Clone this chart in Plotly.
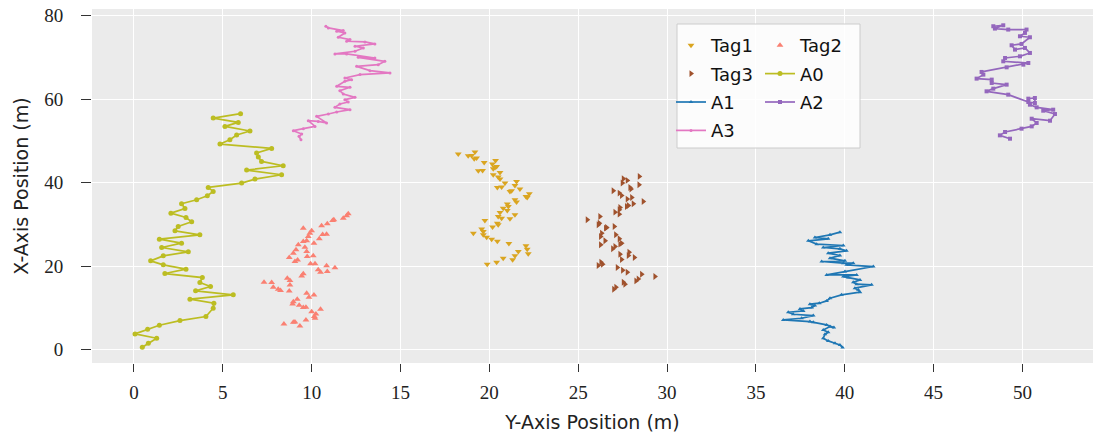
import plotly.graph_objects as go

# ---------------- data ----------------
tag1_x = [18.25, 18.81, 19.0, 19.19, 19.15, 19.28, 19.71, 20.35, 20.17, 20.41, 20.22, 20.32, 19.38, 19.62,
          20.6, 20.22, 20.5, 20.6, 20.88, 21.53, 21.44, 20.45, 20.69, 21.16, 21.25, 21.72, 22.25, 22.13,
          22.06, 21.44, 21.53, 21.01, 21.07, 20.78, 21.01, 20.6, 21.44, 20.5, 20.69, 21.16, 19.75, 20.45,
          20.5, 20.18, 19.57, 19.1, 19.66, 19.66, 19.85, 20.13, 20.45, 21.1, 22.06, 22.13, 22.19, 21.63,
          21.44, 20.78, 21.31, 20.41, 19.88]
tag1_y = [46.85, 46.45, 46.53, 47.33, 45.73, 45.89, 44.85, 45.33, 44.45, 43.89, 43.33, 43.65, 42.85, 42.93,
          42.45, 41.89, 41.34, 40.86, 39.9, 40.3, 39.34, 38.86, 38.94, 37.9, 38.06, 38.46, 37.34, 36.46,
          36.7, 35.9, 35.34, 34.86, 34.3, 33.9, 33.34, 32.86, 32.3, 31.9, 31.5, 31.34, 30.94, 30.3,
          29.9, 29.35, 28.87, 27.9, 28.3, 27.51, 26.95, 26.47, 25.99, 25.43, 24.87, 24.07, 22.95, 23.51,
          22.47, 21.91, 21.51, 20.95, 20.47]

tag2_x = [12.06, 11.97, 11.78, 11.18, 11.25, 10.88, 10.56, 9.53, 10.0, 9.9, 9.81, 10.84, 10.62, 10.43,
          10.13, 9.72, 9.53, 9.25, 9.62, 9.12, 9.72, 8.97, 10.09, 8.74, 9.21, 9.06, 9.75, 10.19, 9.94,
          10.84, 11.31, 10.37, 10.5, 10.88, 9.53, 9.44, 8.63, 8.78, 7.32, 7.75, 8.78, 7.84, 8.12, 8.25,
          8.74, 9.72, 10.13, 9.85, 9.19, 8.97, 8.93, 9.3, 9.68, 9.53, 10.5, 10.0, 10.24, 10.15, 10.19,
          9.68, 8.97, 8.44, 9.34, 9.06]
tag2_y = [32.54, 32.06, 31.5, 30.94, 31.1, 30.14, 29.66, 29.1, 28.46, 27.9, 27.1, 27.66, 27.58, 26.55,
          25.5, 26.06, 25.9, 25.1, 24.54, 23.9, 23.5, 23.1, 22.47, 22.06, 21.5, 21.1, 22.3, 20.55, 20.55,
          20.07, 19.59, 19.11, 18.55, 18.7, 18.15, 17.67, 17.1, 16.55, 16.15, 16.07, 15.5, 14.95, 14.47, 14.15,
          14.07, 13.5, 13.1, 12.55, 12.07, 11.5, 10.95, 10.63, 10.15, 10.07, 9.67, 9.1, 8.55, 7.92, 7.52,
          7.12, 6.56, 6.16, 5.68, 6.64]

tag3_x = [27.54, 27.76, 27.48, 28.44, 28.42, 26.97, 27.31, 27.44, 27.91, 27.97, 28.01, 27.76, 27.82, 27.72,
          28.1, 28.66, 27.35, 27.31, 27.07, 27.31, 26.22, 25.51, 26.19, 26.13, 26.54, 26.6, 27.03, 26.32,
          26.26, 26.51, 27.11, 27.31, 27.44, 27.35, 26.26, 27.07, 26.94, 27.35, 27.86, 27.82, 28.16, 27.44,
          26.28, 26.37, 26.13, 27.2, 27.5, 27.76, 28.57, 29.32, 28.38, 28.25, 27.54, 27.63, 27.12, 27.0]
tag3_y = [40.93, 40.54, 39.9, 41.5, 39.5, 38.06, 37.5, 36.94, 38.86, 38.46, 36.46, 36.06, 34.54, 34.3,
          34.94, 35.5, 34.06, 33.5, 32.94, 32.46, 31.9, 31.1, 30.3, 29.9, 29.1, 29.26, 29.5, 27.91,
          27.1, 26.07, 27.51, 26.55, 25.51, 25.27, 25.11, 24.71, 24.15, 22.87, 23.35, 22.55, 22.07, 21.59,
          20.95, 20.47, 20.15, 19.67, 19.03, 18.55, 18.07, 17.51, 16.95, 16.47, 16.16, 15.68, 14.96, 14.48]

a0_x = [0.47, 0.81, 1.28, 0.06, 0.77, 1.43, 2.59, 4.05, 4.46, 4.5, 3.15, 5.59, 3.47, 4.31, 3.71, 3.85,
        1.74, 2.93, 1.65, 0.94, 1.65, 3.06, 1.56, 2.68, 1.43, 3.71, 2.31, 2.49, 3.25, 2.93, 2.08, 2.87,
        2.68, 3.53, 4.13, 4.46, 4.18, 6.06, 6.81, 8.31, 6.34, 8.4, 7.18, 7.0, 6.9, 7.75, 4.84, 5.4,
        5.78, 6.53, 5.12, 5.87, 4.46, 6.0]
a0_y = [0.57, 1.53, 2.73, 3.77, 4.88, 5.84, 6.96, 7.92, 9.92, 11.12, 12.08, 13.12, 14.08, 15.12, 16.07, 17.27,
        18.23, 19.27, 20.31, 21.27, 22.47, 23.43, 24.47, 25.51, 26.47, 27.51, 28.47, 29.5, 30.62, 31.66, 32.7, 33.82,
        34.94, 35.9, 36.86, 37.9, 38.86, 39.9, 40.86, 41.9, 43.01, 44.05, 45.09, 46.13, 47.09, 48.21, 49.25, 50.29,
        51.41, 52.37, 53.48, 54.44, 55.48, 56.52]

a1_x = [39.88, 39.73, 39.45, 39.07, 38.79, 38.89, 39.07, 38.79, 39.17, 39.39, 38.98, 38.23, 38.04, 36.54,
        37.57, 38.23, 37.1, 36.82, 37.67, 37.48, 38.14, 38.32, 38.04, 38.57, 38.98, 39.17, 39.82, 40.86,
        40.76, 40.57, 41.51, 40.67, 40.48, 40.86, 40.2, 39.92, 40.67, 38.98, 40.01, 41.61, 40.1, 40.48,
        39.92, 38.7, 40.01, 39.17, 39.73, 39.07, 40.1, 39.73, 38.79, 39.92, 38.42, 37.95, 39.07, 38.32,
        39.17, 39.73]
a1_y = [0.49, 1.13, 1.53, 2.09, 2.73, 3.69, 4.17, 4.72, 5.52, 5.28, 5.92, 6.56, 6.72, 7.12,
        7.52, 8.16, 8.48, 8.96, 9.28, 9.76, 10.08, 10.56, 10.88, 11.12, 11.68, 12.32, 13.12, 13.76,
        14.32, 14.72, 15.52, 15.68, 16.16, 16.71, 17.27, 17.51, 17.91, 17.91, 18.71, 19.91, 20.31, 20.71,
        20.71, 21.11, 21.27, 21.91, 22.55, 23.11, 23.67, 24.15, 24.47, 24.95, 25.27, 26.07, 26.55, 26.87,
        27.51, 28.15]

a2_x = [49.3, 48.73, 49.02, 49.95, 50.52, 50.8, 50.52, 51.55, 51.83, 51.17, 51.73, 50.8, 50.42, 50.33,
        50.7, 50.7, 50.33, 49.2, 47.98, 48.36, 49.11, 48.27, 48.27, 47.42, 47.8, 47.7, 49.11, 50.05,
        50.33, 48.92, 49.02, 49.86, 50.42, 50.14, 49.58, 49.39, 49.95, 50.42, 49.86, 50.14, 50.23, 49.2,
        48.45, 48.92, 48.36]
a2_y = [50.53, 51.33, 52.13, 52.93, 53.48, 54.29, 55.32, 54.84, 56.44, 57.24, 57.48, 58.04, 58.68, 60.12,
        60.28, 59.08, 59.32, 61.08, 61.88, 62.52, 63.48, 63.88, 64.68, 64.92, 65.88, 66.52, 67.63, 68.27,
        68.67, 69.07, 69.87, 70.27, 71.07, 72.27, 71.87, 72.91, 73.23, 74.83, 75.07, 75.87, 76.67, 76.67,
        76.91, 77.7, 77.47]

a3_x = [9.4, 9.29, 9.44, 8.97, 9.53, 10.19, 9.81, 10.37, 10.84, 10.28, 10.94, 11.41, 12.16, 11.31,
        11.59, 12.06, 11.87, 12.44, 11.78, 11.59, 12.16, 11.41, 11.87, 12.25, 11.87, 12.72, 14.41, 13.28,
        12.53, 13.75, 14.12, 12.62, 13.56, 11.97, 11.31, 12.44, 12.91, 12.44, 13.56, 13.0, 11.97, 12.16,
        11.5, 11.87, 11.41, 11.78, 10.94, 10.8]
a3_y = [50.29, 51.09, 51.65, 52.45, 52.93, 53.48, 54.84, 54.68, 54.29, 55.88, 56.44, 56.92, 57.48, 58.04,
        58.84, 59.32, 59.88, 60.44, 61.24, 62.04, 62.84, 63.08, 64.28, 64.68, 65.08, 65.88, 66.28, 66.83,
        67.87, 68.27, 69.07, 70.03, 69.87, 70.83, 70.83, 71.47, 72.27, 72.67, 73.23, 73.71, 73.87, 74.27,
        74.83, 75.87, 76.27, 76.43, 77.07, 77.47]

x_ticks = [0, 5, 10, 15, 20, 25, 30, 35, 40, 45, 50]
y_ticks = [0, 20, 40, 60, 80]

# ---------------- figure ----------------
fig = go.Figure()

def scat(x, y, name, color, symbol, size, legend):
    fig.add_trace(go.Scatter(x=x, y=y, mode="markers", name=name, legend=legend, legendgroup=name,
                             marker=dict(color=color, symbol=symbol, size=size, line=dict(width=0))))

def path(x, y, name, color, symbol, size, legend):
    fig.add_trace(go.Scatter(x=x, y=y, mode="lines+markers", name=name, legend=legend, legendgroup=name,
                             line=dict(color=color, width=1.7),
                             marker=dict(color=color, symbol=symbol, size=size, line=dict(width=0))))

scat(tag1_x, tag1_y, "Tag1", "#DAA520", "triangle-down", 6, "legend")
scat(tag2_x, tag2_y, "Tag2", "#FA8072", "triangle-up", 6, "legend2")
scat(tag3_x, tag3_y, "Tag3", "#A0522D", "triangle-right", 6, "legend")
path(a0_x, a0_y, "A0", "#BCBD22", "circle", 5, "legend2")
path(a1_x, a1_y, "A1", "#1F77B4", "triangle-up", 4, "legend")
path(a2_x, a2_y, "A2", "#9467BD", "square", 4, "legend2")
path(a3_x, a3_y, "A3", "#E377C2", "circle", 3, "legend")

W, H = 1097, 436
ml, mr, mt, mb = 92, 4, 9, 73
pw, ph = W - ml - mr, H - mt - mb

def px2x(p):
    return (p - ml) / pw

def py2y(p):
    return (H - mb - p) / ph

legend_font = dict(family="DejaVu Sans", size=18, color="#111")
common_legend = dict(bgcolor="rgba(0,0,0,0)", borderwidth=0, font=legend_font,
                     xanchor="left", yanchor="top", tracegroupgap=2, itemwidth=30)

fig.add_shape(type="rect", xref="paper", yref="paper",
              x0=px2x(677), x1=px2x(860), y0=py2y(148), y1=py2y(24),
              fillcolor="rgba(255,255,255,0.85)", line=dict(color="#CCCCCC", width=1), layer="above")

fig.update_layout(
    width=W, height=H,
    margin=dict(l=ml, r=mr, t=mt, b=mb),
    paper_bgcolor="white",
    plot_bgcolor="#EBEBEB",
    showlegend=True,
    legend=dict(x=px2x(671), y=py2y(27), **common_legend),
    legend2=dict(x=px2x(760), y=py2y(27), **common_legend),
    xaxis=dict(range=[-2.36, 53.97], tickvals=x_ticks, ticktext=[str(v) for v in x_ticks],
               showgrid=True, gridcolor="white", gridwidth=1, zeroline=False,
               ticks="outside", ticklen=8, tickwidth=1, tickcolor="#333",
               ticklabelstandoff=4,
               tickfont=dict(family="Liberation Serif", size=19, color="#222"),
               title=dict(text="Y-Axis Position (m)", font=dict(family="DejaVu Sans", size=19, color="#222"),
                          standoff=13)),
    yaxis=dict(range=[-3.2, 81.6], tickvals=y_ticks, ticktext=[str(v) for v in y_ticks],
               showgrid=True, gridcolor="white", gridwidth=1, zeroline=False,
               ticks="outside", ticklen=10, tickwidth=1, tickcolor="#333",
               ticklabelstandoff=14,
               tickfont=dict(family="Liberation Serif", size=19, color="#222"),
               title=dict(text="X-Axis Position (m)", font=dict(family="DejaVu Sans", size=19, color="#222"),
                          standoff=10)),
)

fig.write_html("out.html")
